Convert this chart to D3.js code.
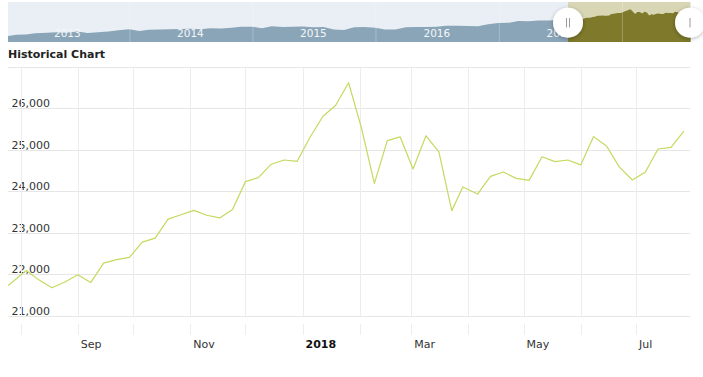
<!DOCTYPE html>
<html>
<head>
<meta charset="utf-8">
<script src="https://cdn.jsdelivr.net/npm/d3@7"></script>
<style>
    body { margin: 0; background: #fff; }
    svg { display: block; font-family: "DejaVu Sans", Verdana, sans-serif; }
</style>
</head>
<body>
<div id="historicalChart"></div>
<script>
// Weekly closes shown in the main chart
const weekDates = [
    '2017-07-21', '2017-07-28', '2017-08-04', '2017-08-11', '2017-08-18', '2017-08-25',
    '2017-09-01', '2017-09-08', '2017-09-15', '2017-09-22', '2017-09-29',
    '2017-10-06', '2017-10-13', '2017-10-20', '2017-10-27',
    '2017-11-03', '2017-11-10', '2017-11-17', '2017-11-24',
    '2017-12-01', '2017-12-08', '2017-12-15', '2017-12-22', '2017-12-29',
    '2018-01-05', '2018-01-12', '2018-01-19', '2018-01-26',
    '2018-02-02', '2018-02-09', '2018-02-16', '2018-02-23',
    '2018-03-02', '2018-03-09', '2018-03-16', '2018-03-23', '2018-03-29',
    '2018-04-06', '2018-04-13', '2018-04-20', '2018-04-27',
    '2018-05-04', '2018-05-11', '2018-05-18', '2018-05-25',
    '2018-06-01', '2018-06-08', '2018-06-15', '2018-06-22', '2018-06-29',
    '2018-07-06', '2018-07-13', '2018-07-20', '2018-07-27'
];
const weekCloses = [
    21580, 21830, 22092, 21858, 21674, 21813,
    21988, 21798, 22268, 22350, 22405,
    22774, 22871, 23329, 23434,
    23539, 23422, 23358, 23558,
    24232, 24329, 24652, 24754, 24719,
    25296, 25803, 26072, 26616,
    25521, 24191, 25219, 25310,
    24538, 25336, 24947, 23533, 24103,
    23933, 24360, 24463, 24311,
    24263, 24831, 24715, 24753,
    24635, 25317, 25090, 24581, 24271,
    24456, 25019, 25058, 25451
];

// Monthly closes for the navigator before the selected range
const navMonthDates = [
    '2012-12-31',
    '2013-01-31', '2013-02-28', '2013-03-28', '2013-04-30', '2013-05-31', '2013-06-28',
    '2013-07-31', '2013-08-30', '2013-09-30', '2013-10-31', '2013-11-29', '2013-12-31',
    '2014-01-31', '2014-02-28', '2014-03-31', '2014-04-30', '2014-05-30', '2014-06-30',
    '2014-07-31', '2014-08-29', '2014-09-30', '2014-10-31', '2014-11-28', '2014-12-31',
    '2015-01-30', '2015-02-27', '2015-03-31', '2015-04-30', '2015-05-29', '2015-06-30',
    '2015-07-31', '2015-08-31', '2015-09-30', '2015-10-30', '2015-11-30', '2015-12-31',
    '2016-01-29', '2016-02-29', '2016-03-31', '2016-04-29', '2016-05-31', '2016-06-30',
    '2016-07-29', '2016-08-31', '2016-09-30', '2016-10-31', '2016-11-30', '2016-12-30',
    '2017-01-31', '2017-02-28', '2017-03-31', '2017-04-28', '2017-05-31', '2017-06-30'
];
const navMonthCloses = [
    13104,
    13861, 14054, 14579, 14840, 15116, 14910,
    15500, 14810, 15130, 15546, 16086, 16577,
    15699, 16322, 16458, 16581, 16717, 16827,
    16563, 17098, 17043, 17391, 17828, 17823,
    17165, 18133, 17776, 17841, 18011, 17620,
    17690, 16528, 16285, 17664, 17720, 17425,
    16466, 16517, 17685, 17774, 17787, 17930,
    18432, 18401, 18308, 18142, 19124, 19763,
    19864, 20812, 20663, 20941, 21009, 21350
];

const yTicks = [21000, 22000, 23000, 24000, 25000, 26000, 27000];
const navYears = [2013, 2014, 2015, 2016, 2017, 2018];

class HistoricalChartVis {
    constructor() {
        this.width = 703;
        this.height = 377;
        this.plot = {left: 8, right: 690, top: 66.8, bottom: 315.7};
        this.nav = {left: 8, right: 690.7, top: 2, bottom: 42};
        this.colors = {
            line: '#c3da5e',
            grid: '#e6e6e6',
            text: '#333333',
            navBack: '#e9eff5',
            navArea: '#8aa5b8',
            selBand: '#d8d6b4',
            selArea: '#7e792b'
        };
    }

    create() {
        const parse = d3.timeParse('%Y-%m-%d');
        const weekly = weekDates.map((d, i) => ({date: parse(d), value: weekCloses[i]}));
        const monthly = navMonthDates.map((d, i) => ({date: parse(d), value: navMonthCloses[i]}));

        const svg = d3.select('#historicalChart')
            .append('svg')
            .attr('width', this.width)
            .attr('height', this.height);

        svg.append('rect')
            .attr('width', this.width)
            .attr('height', this.height)
            .attr('fill', '#fff');

        const x = d3.scaleTime()
            .domain([new Date(2017, 6, 25, 2, 40), new Date(2018, 6, 30, 7, 40)])
            .range([this.plot.left, this.plot.right]);

        this.createNavigator(svg, monthly.concat(weekly), x.domain());
        this.createMain(svg, weekly, x);
    }

    createNavigator(svg, data, selDomain) {
        const n = this.nav;
        const nx = d3.scaleTime()
            .domain([new Date(2013, 0, 6), new Date(2018, 6, 24)])
            .range([n.left, n.right]);
        const ny = d3.scaleLinear()
            .domain([10250, 30250])
            .range([n.bottom, n.top]);

        const defs = svg.append('defs');
        defs.append('clipPath').attr('id', 'navClip')
            .append('rect')
            .attr('x', n.left).attr('y', n.top)
            .attr('width', n.right - n.left).attr('height', n.bottom - n.top);

        const s0 = Math.max(nx(selDomain[0]), n.left);
        const s1 = Math.min(nx(selDomain[1]), n.right);
        defs.append('clipPath').attr('id', 'selClip')
            .append('rect')
            .attr('x', s0).attr('y', n.top)
            .attr('width', s1 - s0).attr('height', n.bottom - n.top);

        const shadow = defs.append('filter').attr('id', 'handleShadow')
            .attr('x', '-50%').attr('y', '-50%').attr('width', '200%').attr('height', '200%');
        shadow.append('feDropShadow')
            .attr('dx', 0).attr('dy', 1)
            .attr('stdDeviation', 2)
            .attr('flood-color', '#000')
            .attr('flood-opacity', 0.3);

        const g = svg.append('g').attr('clip-path', 'url(#navClip)');

        g.append('rect')
            .attr('x', n.left).attr('y', n.top)
            .attr('width', n.right - n.left).attr('height', n.bottom - n.top)
            .attr('fill', this.colors.navBack);

        const area = d3.area()
            .x(d => nx(d.date))
            .y0(n.bottom)
            .y1(d => ny(d.value));

        g.append('path')
            .datum(data)
            .attr('fill', this.colors.navArea)
            .attr('d', area);

        // Selected range
        const sel = g.append('g').attr('clip-path', 'url(#selClip)');
        sel.append('rect')
            .attr('x', s0).attr('y', n.top)
            .attr('width', s1 - s0).attr('height', n.bottom - n.top)
            .attr('fill', this.colors.selBand);
        sel.append('path')
            .datum(data)
            .attr('fill', this.colors.selArea)
            .attr('d', area);

        // Year separators and labels
        g.selectAll('.nav-sep')
            .data(navYears.slice(1))
            .enter().append('line')
            .attr('x1', d => nx(new Date(d, 0, 1)) + 0.5)
            .attr('x2', d => nx(new Date(d, 0, 1)) + 0.5)
            .attr('y1', n.top)
            .attr('y2', n.bottom)
            .attr('stroke', '#fff')
            .attr('stroke-opacity', 0.25);

        g.selectAll('.nav-year')
            .data(navYears.slice(0, -1))
            .enter().append('text')
            .attr('x', d => nx(new Date(d, 6, 1)))
            .attr('y', 36.5)
            .attr('text-anchor', 'middle')
            .style('font-size', '10.5px')
            .style('fill', '#f4f7f9')
            .text(d => d);

        // Handles
        const handles = svg.append('g');
        [{x: s0, bars: [-1.5, 1.5]}, {x: n.right - 0.7, bars: [0]}].forEach(h => {
            handles.append('circle')
                .attr('cx', h.x)
                .attr('cy', 22.7)
                .attr('r', 15)
                .attr('fill', '#fff')
                .attr('filter', 'url(#handleShadow)');
            h.bars.forEach(b => {
                handles.append('line')
                    .attr('x1', h.x + b).attr('x2', h.x + b)
                    .attr('y1', 18).attr('y2', 27.5)
                    .attr('stroke', '#9a9a9a')
                    .attr('stroke-width', 1);
            });
        });
    }

    createMain(svg, data, x) {
        const p = this.plot;
        const y = d3.scaleLinear()
            .domain([21000, 27000])
            .range([p.bottom, p.top]);

        svg.append('text')
            .attr('x', 8)
            .attr('y', 58)
            .style('font-size', '11px')
            .style('font-weight', 'bold')
            .style('fill', '#222')
            .text('Historical Chart');

        // Horizontal grid + y labels
        svg.selectAll('.y-grid')
            .data(yTicks)
            .enter().append('line')
            .attr('x1', p.left).attr('x2', p.right)
            .attr('y1', d => Math.round(y(d)) + 0.5)
            .attr('y2', d => Math.round(y(d)) + 0.5)
            .attr('stroke', this.colors.grid);

        svg.selectAll('.y-label')
            .data(yTicks.slice(0, -1))
            .enter().append('text')
            .attr('x', 11.5)
            .attr('y', d => y(d) - 1)
            .style('font-size', '11px')
            .style('fill', this.colors.text)
            .text(d => d3.format(',')(d));

        // Monthly vertical grid, ticks and labels
        const months = x.ticks(d3.timeMonth.every(1));
        svg.selectAll('.x-grid')
            .data(months)
            .enter().append('line')
            .attr('x1', d => Math.round(x(d)) + 0.5)
            .attr('x2', d => Math.round(x(d)) + 0.5)
            .attr('y1', p.top)
            .attr('y2', p.bottom)
            .attr('stroke', '#ececec');

        svg.selectAll('.x-tick')
            .data(months)
            .enter().append('line')
            .attr('x1', d => Math.round(x(d)) + 0.5)
            .attr('x2', d => Math.round(x(d)) + 0.5)
            .attr('y1', 324)
            .attr('y2', 335)
            .attr('stroke', '#eeeeee');

        svg.selectAll('.x-label')
            .data(months.filter(d => d.getMonth() % 2 === 0))
            .enter().append('text')
            .attr('x', d => x(d) + 3)
            .attr('y', 347.5)
            .style('font-size', '11px')
            .style('font-weight', d => d.getMonth() === 0 ? 'bold' : 'normal')
            .style('fill', d => d.getMonth() === 0 ? '#111' : this.colors.text)
            .text(d => d.getMonth() === 0 ? d3.timeFormat('%Y')(d) : d3.timeFormat('%b')(d));

        // Price line
        svg.append('defs').append('clipPath').attr('id', 'plotClip')
            .append('rect')
            .attr('x', p.left).attr('y', p.top - 5)
            .attr('width', p.right - p.left).attr('height', p.bottom - p.top + 10);

        svg.append('path')
            .datum(data)
            .attr('clip-path', 'url(#plotClip)')
            .attr('fill', 'none')
            .attr('stroke', this.colors.line)
            .attr('stroke-width', 1.2)
            .attr('stroke-linejoin', 'round')
            .attr('d', d3.line()
                .x(d => x(d.date))
                .y(d => y(d.value))
            );
    }
}

new HistoricalChartVis().create();
</script>
</body>
</html>
